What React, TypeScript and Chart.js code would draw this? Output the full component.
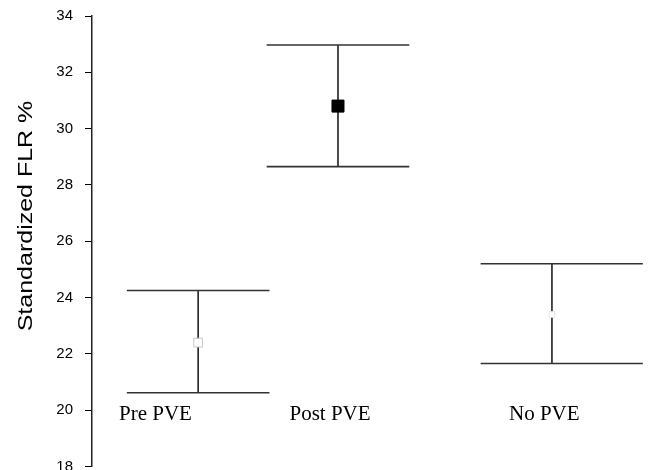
import React, { useEffect, useRef } from "react";
import { Chart, registerables } from "chart.js";

Chart.register(...registerables);

const categories = ["Pre PVE", "Post PVE", "No PVE"];
const xPositions = [1, 2, 3.53];
const means = [22.4, 30.8, 23.4];
const upper = [24.25, 32.97, 25.2];
const lower = [20.62, 28.65, 21.66];
const labelX = [0.695, 1.943, 3.475];
const labelY = 19.85;
const yMin = 18;
const yMax = 34;
const yStep = 2;
const yTitle = "Standardized FLR %";

const capLeft = [0.51, 0.51, 0.51];
const capRight = [0.51, 0.51, 0.65];

const errorBarPlugin = {
  id: "errorBars",
  beforeDatasetsDraw(chart: any) {
    const { ctx, scales } = chart;
    const xs = scales.x;
    const ys = scales.y;
    ctx.save();
    for (let i = 0; i < xPositions.length; i++) {
      const px = xs.getPixelForValue(xPositions[i]);
      const pTop = ys.getPixelForValue(upper[i]);
      const pBot = ys.getPixelForValue(lower[i]);
      const l = xs.getPixelForValue(xPositions[i] - capLeft[i]);
      const r = xs.getPixelForValue(xPositions[i] + capRight[i]);
      ctx.strokeStyle = "#111";
      ctx.lineWidth = 1.5;
      ctx.beginPath();
      ctx.moveTo(px, pTop);
      ctx.lineTo(px, pBot);
      ctx.stroke();
      ctx.strokeStyle = "#333";
      ctx.lineWidth = 1.6;
      ctx.beginPath();
      ctx.moveTo(l, pTop);
      ctx.lineTo(r, pTop);
      ctx.moveTo(l, pBot);
      ctx.lineTo(r, pBot);
      ctx.stroke();
    }
    ctx.restore();
  },
  afterDraw(chart: any) {
    const { ctx, scales } = chart;
    const xs = scales.x;
    const ys = scales.y;
    ctx.save();
    ctx.fillStyle = "#000";
    ctx.font = '21px "Liberation Serif", "Times New Roman", serif';
    ctx.textAlign = "center";
    ctx.textBaseline = "middle";
    for (let i = 0; i < categories.length; i++) {
      ctx.fillText(categories[i], xs.getPixelForValue(labelX[i]), ys.getPixelForValue(labelY));
    }
    ctx.restore();

    ctx.save();
    ctx.fillStyle = "#000";
    ctx.font = '20px "Liberation Sans", Arial, sans-serif';
    ctx.textAlign = "center";
    ctx.textBaseline = "middle";
    ctx.translate(26, 216);
    ctx.rotate(-Math.PI / 2);
    ctx.scale(1.25, 1);
    ctx.fillText(yTitle, 0, 0);
    ctx.restore();
  },
};

export default function App() {
  const canvasRef = useRef<HTMLCanvasElement | null>(null);

  useEffect(() => {
    const canvas = canvasRef.current;
    if (!canvas) return;
    const chart = new Chart(canvas, {
      type: "scatter",
      data: {
        datasets: [
          {
            data: xPositions.map((x, i) => ({ x, y: means[i] })),
            pointStyle: "rect",
            pointRadius: [6.2, 8.5, 4],
            backgroundColor: ["#fff", "#000", "#fff"],
            borderColor: ["#c8c8c8", "#000", "#e6e6e6"],
            borderWidth: [1, 1, 1],
          } as any,
        ],
      },
      plugins: [errorBarPlugin],
      options: {
        animation: false,
        responsive: false,
        devicePixelRatio: 1,
        layout: { padding: { top: 16, right: 5, bottom: 4, left: 0 } },
        plugins: {
          legend: { display: false },
          tooltip: { enabled: false },
          title: { display: false },
        },
        scales: {
          x: {
            type: "linear",
            min: 0.241,
            max: 4.199,
            display: false,
            ticks: { display: false },
            afterFit(scale: any) {
              scale.height = 0;
              scale.paddingTop = 0;
              scale.paddingBottom = 0;
              scale.paddingLeft = 0;
              scale.paddingRight = 0;
            },
          },
          y: {
            type: "linear",
            min: yMin,
            max: yMax,
            afterFit(scale: any) {
              scale.width = 92;
              scale.paddingTop = 0;
              scale.paddingBottom = 0;
            },
            ticks: {
              stepSize: yStep,
              color: "#000",
              padding: 12,
              font: { family: '"Liberation Sans", Arial, sans-serif', size: 15 },
            },
            grid: {
              drawOnChartArea: false,
              drawTicks: true,
              tickLength: 7,
              color: "#000",
              lineWidth: 1,
            },
            border: { display: true, color: "#222", width: 1.5 },
          },
        },
      } as any,
    });
    return () => chart.destroy();
  }, []);

  return (
    <div style={{ position: "absolute", left: 0, top: 0, width: 655, height: 470, overflow: "hidden", background: "#fff" }}>
      <canvas ref={canvasRef} width={655} height={476} style={{ display: "block" }} />
    </div>
  );
}
